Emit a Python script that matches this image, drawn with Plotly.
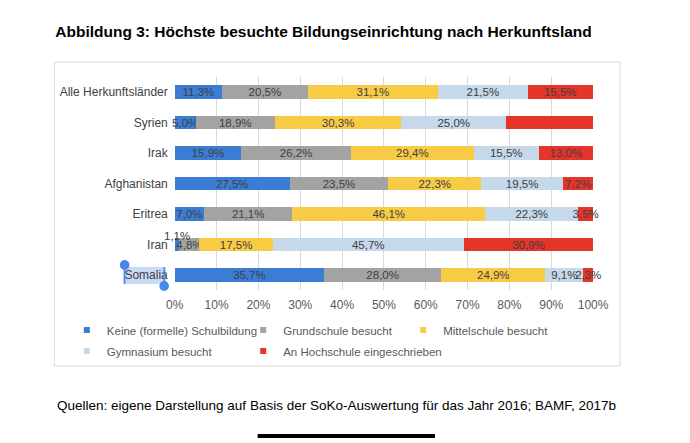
import plotly.graph_objects as go

countries = ["Alle Herkunftsländer", "Syrien", "Irak", "Afghanistan", "Eritrea", "Iran", "Somalia"]
series_names = ["Keine (formelle) Schulbildung", "Grundschule besucht", "Mittelschule besucht",
                "Gymnasium besucht", "An Hochschule eingeschrieben"]
keine = [11.3, 5.0, 15.9, 27.5, 7.0, 1.1, 35.7]
grundschule = [20.5, 18.9, 26.2, 23.5, 21.1, 4.8, 28.0]
mittelschule = [31.1, 30.3, 29.4, 22.3, 46.1, 17.5, 24.9]
gymnasium = [21.5, 25.0, 15.5, 19.5, 22.3, 45.7, 9.1]
hochschule = [15.5, 20.9, 13.0, 7.2, 3.5, 30.9, 2.3]
series_values = [keine, grundschule, mittelschule, gymnasium, hochschule]
colors = ["#3b7dd4", "#a3a3a3", "#f8cb45", "#c5d9eb", "#e5342a"]
x_ticks = [0, 10, 20, 30, 40, 50, 60, 70, 80, 90, 100]
x_tick_labels = [f"{v}%" for v in x_ticks]

W, H = 690, 443
FONT = "Liberation Sans, Arial, sans-serif"


def px_x(p):
    return p / W


def px_y(p):
    return 1 - p / H


def fmt(v):
    return f"{v:.1f}".replace(".", ",") + "%"


fig = go.Figure()

# tiny segment whose label sits above the bar
outside = {(0, "Iran")}

for i, (name, vals, col) in enumerate(zip(series_names, series_values, colors)):
    texts = ["" if (i, c) in outside else fmt(v) for c, v in zip(countries, vals)]
    fig.add_trace(go.Bar(
        y=countries, x=vals, orientation="h", name=name,
        marker=dict(color=col, line=dict(width=0)),
        text=texts, textposition="inside", insidetextanchor="middle",
        textangle=0, textfont=dict(family=FONT, size=11.5, color="#404040"),
        cliponaxis=False, showlegend=False, legendgroup=name,
        hoverinfo="skip",
    ))

for (i, c) in outside:
    idx = countries.index(c)
    start = sum(series_values[k][idx] for k in range(i))
    fig.add_annotation(x=start + series_values[i][idx] / 2, y=c, xref="x", yref="y",
                       text=fmt(series_values[i][idx]), showarrow=False, yshift=9,
                       font=dict(family=FONT, size=11.5, color="#404040"))

# legend entries (small square markers); positions = where the entry text starts
legend_text_pos = [(100, 330), (283, 330), (449, 330), (100, 351), (283, 351)]
for i, (name, col) in enumerate(zip(series_names, colors)):
    lg = "legend" if i == 0 else f"legend{i + 1}"
    fig.add_trace(go.Scatter(
        x=[None], y=[None], mode="markers", name=name, legendgroup=name,
        marker=dict(symbol="square", size=6, color=col), legend=lg, showlegend=True,
    ))

legend_common = dict(orientation="h", xanchor="left", yanchor="middle",
                     bgcolor="rgba(0,0,0,0)", borderwidth=0,
                     font=dict(family=FONT, size=11.5, color="#595959"),
                     itemclick=False, itemdoubleclick=False)
layout_legends = {}
for i, (lx, ly) in enumerate(legend_text_pos):
    key = "legend" if i == 0 else f"legend{i + 1}"
    layout_legends[key] = dict(x=px_x(lx - 40), y=px_y(ly), **legend_common)

# plot area: 0% at x=172px, 100% at 606px; rows from y=92 to 275 px
y_top = 92 - 15.25
y_bot = 275 + 15.25

fig.update_layout(
    autosize=True,
    margin=dict(l=0, r=0, t=0, b=0, pad=0),
    paper_bgcolor="white", plot_bgcolor="white",
    barmode="stack", bargap=0.57,
    font=dict(family=FONT, size=12, color="#595959"),
    uniformtext=dict(minsize=11.5, mode="show"),
    xaxis=dict(domain=[px_x(172), px_x(606)], range=[0, 100], tickvals=x_ticks,
               ticktext=x_tick_labels, showgrid=True, gridcolor="#d9d9d9", gridwidth=1,
               zeroline=False, showline=False, ticks="", ticklabelstandoff=6,
               tickfont=dict(family=FONT, size=12, color="#595959"), fixedrange=True),
    yaxis=dict(domain=[px_y(y_bot), px_y(y_top)], autorange="reversed", type="category",
               showgrid=False, zeroline=False, showline=False, ticks="",
               ticklabelstandoff=6,
               tickfont=dict(family=FONT, size=12, color="#404040"), fixedrange=True),
    title=dict(text="<b>Abbildung 3: Höchste besuchte Bildungseinrichtung nach Herkunftsland</b>",
               x=px_x(48), xanchor="left", xref="paper", y=px_y(32), yanchor="middle",
               yref="paper", font=dict(family=FONT, size=15.5, color="#000000")),
    **layout_legends,
)

# source line
fig.add_annotation(text="Quellen: eigene Darstellung auf Basis der SoKo-Auswertung für das Jahr 2016; BAMF, 2017b",
                   x=px_x(48), y=px_y(405), xref="paper", yref="paper", xanchor="left",
                   yanchor="middle", showarrow=False,
                   font=dict(family=FONT, size=13.5, color="#000000"))

# chart frame
fig.add_shape(type="rect", xref="paper", yref="paper", x0=px_x(47), x1=px_x(634),
              y0=px_y(366), y1=px_y(62), line=dict(color="#d9d9d9", width=1), layer="below")

# text selection highlight on "Somalia" (screenshot artefact)
fig.add_shape(type="rect", xref="paper", yref="paper", x0=px_x(118), x1=px_x(163),
              y0=px_y(284), y1=px_y(267), line=dict(width=0), fillcolor="#c9daf5", layer="below")
for (cx, cy) in [(120, 265), (161, 286)]:
    fig.add_shape(type="circle", xref="paper", yref="paper", x0=px_x(cx - 5), x1=px_x(cx + 5),
                  y0=px_y(cy + 5), y1=px_y(cy - 5), line=dict(width=0), fillcolor="#4a86e8")
for (lx, ya, yb) in [(120, 265, 284), (161, 267, 286)]:
    fig.add_shape(type="line", xref="paper", yref="paper", x0=px_x(lx), x1=px_x(lx),
                  y0=px_y(ya), y1=px_y(yb), line=dict(color="#4a86e8", width=1.5))

# home indicator bar (screenshot artefact)
fig.add_shape(type="line", xref="paper", yref="paper", x0=px_x(258), x1=px_x(442),
              y0=px_y(436), y1=px_y(436), line=dict(color="#000000", width=4))

fig.write_html("out.html",
               default_width="100vw", default_height="100vh",
               config=dict(displayModeBar=False, responsive=True),
               post_script="document.documentElement.style.margin='0';"
                           "document.body.style.margin='0';"
                           "document.body.style.overflow='hidden';"
                           "window.dispatchEvent(new Event('resize'));")
